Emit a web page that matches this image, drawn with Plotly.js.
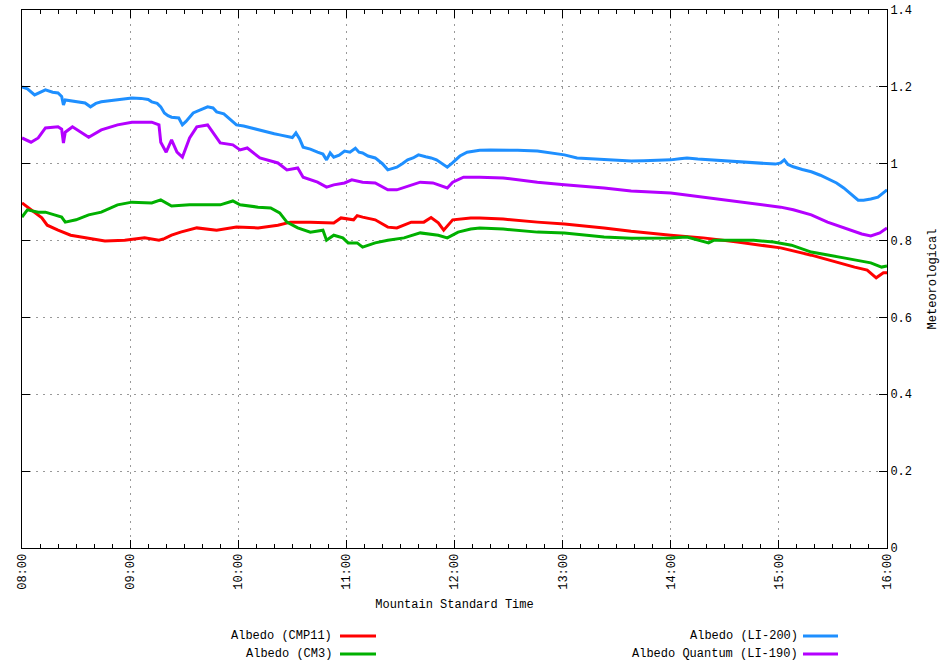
<!DOCTYPE html>
<html>
<head>
<meta charset="utf-8">
<script src="https://cdn.plot.ly/plotly-3.0.1.min.js"></script>
<style>html,body{margin:0;padding:0;background:#fff;}#chart{width:945px;height:664px;}</style>
</head>
<body>
<div id="chart"></div>
<script>
// minutes after 08:00 (Mountain Standard Time)
const tickVals = [0, 60, 120, 180, 240, 300, 360, 420, 480];
const tickLabels = ["08:00", "09:00", "10:00", "11:00", "12:00", "13:00", "14:00", "15:00", "16:00"];
const seriesNames = ["Albedo (CMP11)", "Albedo (CM3)", "Albedo (LI-200)", "Albedo Quantum (LI-190)"];

const cmp11T = [0,3,7,11,14,20,27,35,46,57,68,76,79,83,88,97,108,119,131,142,149,160,173,177,184,186,189,196,203,208,216,223,227,231,234,239,249,254,267,286,301,323,338,360,378,397,410,421,438,447,462,469,474,478,480];
const cmp11V = [0.898,0.887,0.872,0.859,0.840,0.827,0.814,0.807,0.799,0.801,0.807,0.801,0.805,0.814,0.822,0.833,0.827,0.835,0.833,0.840,0.848,0.848,0.846,0.859,0.854,0.865,0.861,0.854,0.835,0.833,0.848,0.848,0.860,0.846,0.827,0.854,0.859,0.859,0.856,0.848,0.843,0.833,0.824,0.814,0.807,0.796,0.788,0.781,0.762,0.750,0.731,0.723,0.703,0.716,0.716];

const cm3T = [0,3,9,13,18,22,24,30,37,44,53,61,72,77,83,93,110,117,121,131,138,143,147,153,160,167,169,173,178,181,186,189,196,203,212,221,231,236,242,249,254,267,286,301,323,338,360,369,381,384,406,417,427,438,456,471,477,480];
const cm3V = [0.861,0.880,0.874,0.874,0.867,0.861,0.848,0.854,0.867,0.874,0.893,0.900,0.898,0.906,0.890,0.893,0.893,0.903,0.893,0.887,0.885,0.872,0.848,0.833,0.822,0.827,0.801,0.814,0.807,0.794,0.794,0.783,0.794,0.801,0.807,0.820,0.814,0.807,0.822,0.830,0.833,0.830,0.822,0.820,0.809,0.806,0.807,0.809,0.794,0.801,0.801,0.796,0.788,0.770,0.755,0.742,0.731,0.734];

const li200T = [0,3,7,10,13,17,20,22,23,24,28,32,35,38,41,44,48,53,57,61,66,70,72,75,77,79,81,83,87,89,91,95,99,103,106,108,112,115,119,123,127,131,136,140,143,147,150,152,154,156,160,164,167,169,171,173,176,179,182,185,187,189,192,196,200,203,206,208,211,214,217,220,224,227,230,234,236,239,243,247,251,254,260,267,275,286,293,301,308,315,323,330,338,345,352,360,365,369,375,382,388,395,400,406,413,418,421,423,425,428,433,438,443,447,452,456,460,464,467,471,475,478,480];
const li200V = [1.200,1.195,1.179,1.185,1.192,1.186,1.184,1.175,1.153,1.166,1.163,1.160,1.158,1.148,1.157,1.161,1.163,1.166,1.168,1.171,1.170,1.167,1.161,1.157,1.148,1.132,1.125,1.121,1.119,1.101,1.110,1.132,1.140,1.148,1.145,1.135,1.130,1.118,1.101,1.098,1.093,1.088,1.082,1.078,1.075,1.072,1.068,1.080,1.065,1.043,1.038,1.030,1.025,1.010,1.028,1.017,1.022,1.033,1.030,1.040,1.030,1.028,1.020,1.015,1.000,0.984,0.988,0.991,1.000,1.010,1.015,1.023,1.018,1.015,1.010,0.997,0.991,1.003,1.020,1.030,1.033,1.035,1.036,1.036,1.035,1.033,1.028,1.023,1.015,1.013,1.012,1.010,1.007,1.008,1.009,1.010,1.013,1.015,1.012,1.010,1.008,1.006,1.005,1.003,1.001,0.999,1.002,1.010,0.998,0.992,0.985,0.979,0.970,0.962,0.950,0.937,0.920,0.905,0.905,0.908,0.913,0.925,0.932];

const li190T = [0,5,9,13,20,22,23,24,28,37,44,53,61,72,76,77,80,83,86,89,93,97,103,106,110,117,121,125,132,142,147,153,156,164,169,173,179,183,189,196,203,208,216,221,228,236,239,245,254,267,286,301,323,338,360,378,397,421,428,438,447,456,466,471,476,480];
const li190V = [1.067,1.056,1.067,1.093,1.096,1.090,1.054,1.082,1.096,1.069,1.088,1.101,1.108,1.108,1.101,1.056,1.030,1.062,1.030,1.017,1.067,1.096,1.101,1.082,1.054,1.049,1.036,1.041,1.015,1.002,0.984,0.989,0.965,0.952,0.939,0.945,0.950,0.958,0.952,0.950,0.932,0.932,0.945,0.952,0.950,0.937,0.952,0.965,0.965,0.963,0.952,0.945,0.937,0.929,0.924,0.913,0.900,0.887,0.880,0.867,0.848,0.833,0.817,0.812,0.820,0.833];

const colors = ["#ff0000", "#00b000", "#1e8fff", "#b400ff"];
const xs = [cmp11T, cm3T, li200T, li190T];
const ys = [cmp11V, cm3V, li200V, li190V];

const traces = seriesNames.map((n, i) => ({
  x: xs[i], y: ys[i], name: n, type: "scatter", mode: "lines",
  line: {color: colors[i], width: 3}, showlegend: false
}));

const font = {family: "Liberation Mono, DejaVu Sans Mono, monospace", size: 12, color: "#000"};

// legend drawn as annotations + sample lines (text to the left of the line)
const L = 22, W = 865, T = 10, H = 538;
const px = v => (v - L) / W;
const py = v => (T + H - v) / H;
const legendPos = [
  {tx: 334, y: 636, x0: 340, x1: 376},
  {tx: 334, y: 654, x0: 340, x1: 376},
  {tx: 800, y: 636, x0: 803, x1: 838},
  {tx: 800, y: 654, x0: 803, x1: 838}
];
const annotations = seriesNames.map((n, i) => ({
  text: n, xref: "paper", yref: "paper", x: px(legendPos[i].tx), y: py(legendPos[i].y),
  xanchor: "right", yanchor: "middle", showarrow: false, font: font
}));
const shapes = seriesNames.map((n, i) => ({
  type: "line", xref: "paper", yref: "paper",
  x0: px(legendPos[i].x0), x1: px(legendPos[i].x1),
  y0: py(legendPos[i].y), y1: py(legendPos[i].y),
  line: {color: colors[i], width: 3}
}));

const gridDash = "2px,5px";

const layout = {
  width: 945, height: 664,
  margin: {l: 22, r: 58, t: 10, b: 116},
  paper_bgcolor: "#fff", plot_bgcolor: "#fff",
  font: font,
  showlegend: false,
  xaxis: {
    range: [0, 480], tickmode: "array", tickvals: tickVals, ticktext: tickLabels,
    tickangle: -90, ticks: "inside", ticklen: 8, tickcolor: "#000",
    minor: {tickmode: "linear", tick0: 0, dtick: 10, ticks: "inside", ticklen: 4, tickcolor: "#000", showgrid: false},
    showgrid: true, gridcolor: "#999999", griddash: gridDash, gridwidth: 1,
    showline: true, linecolor: "#000", linewidth: 1, mirror: "ticks",
    zeroline: false, tickfont: font,
    title: {text: "Mountain Standard Time", font: font, standoff: 10}
  },
  yaxis: {
    range: [0, 1.4], dtick: 0.2, tick0: 0, side: "right",
    ticks: "inside", ticklen: 8, tickcolor: "#000",
    showgrid: true, gridcolor: "#999999", griddash: gridDash, gridwidth: 1,
    showline: true, linecolor: "#000", linewidth: 1, mirror: "ticks",
    zeroline: false, tickfont: font,
    title: {text: "Meteorological", font: font, standoff: 16}
  },
  annotations: annotations,
  shapes: shapes
};

Plotly.newPlot("chart", traces, layout, {staticPlot: true, displayModeBar: false});
</script>
</body>
</html>
